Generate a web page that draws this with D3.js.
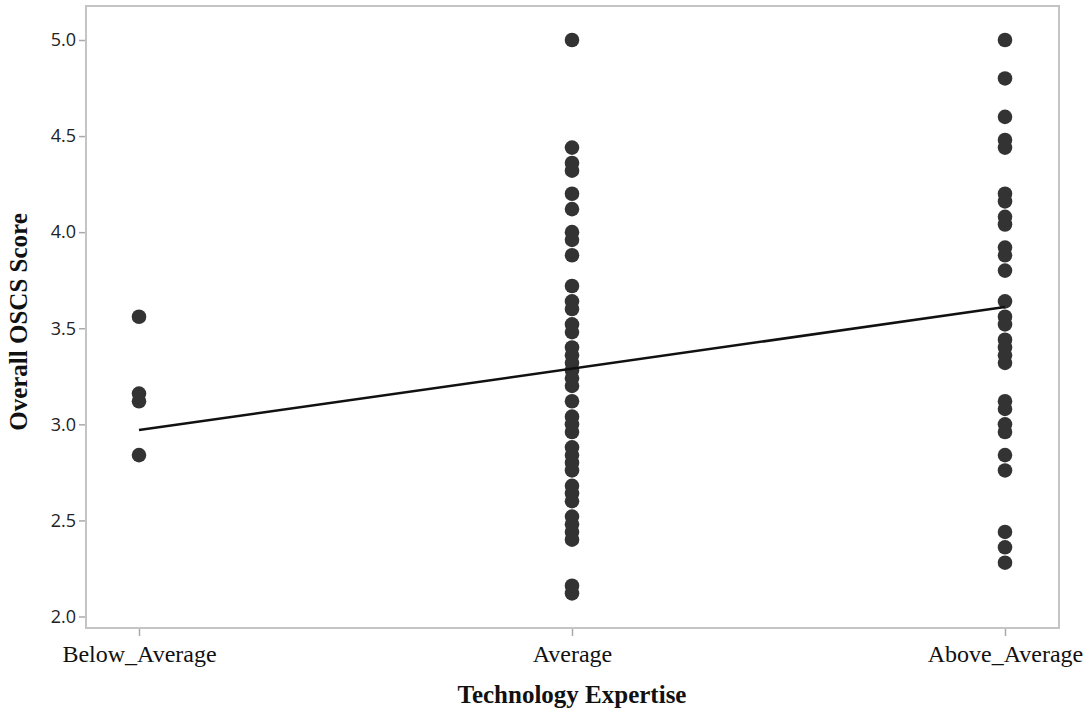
<!DOCTYPE html>
<html>
<head>
<meta charset="utf-8">
<script src="https://cdn.jsdelivr.net/npm/d3@7"></script>
<style>
  html, body { margin: 0; padding: 0; background: #fff; }
  svg { display: block; }
</style>
</head>
<body>
<svg id="chart" width="1086" height="719"></svg>
<script>
// Expertise groups along the x axis
const categories = ["Below_Average", "Average", "Above_Average"];

// Overall OSCS scores, one list per expertise group
const belowAverageScores = [3.56, 3.16, 3.12, 2.84];
const averageScores = [
  5.00, 4.44, 4.36, 4.32, 4.20, 4.12, 4.00, 3.96, 3.88, 3.72,
  3.64, 3.60, 3.52, 3.48, 3.40, 3.36, 3.32, 3.28, 3.24, 3.20,
  3.12, 3.04, 3.00, 2.96, 2.88, 2.84, 2.80, 2.76, 2.68, 2.64,
  2.60, 2.52, 2.48, 2.44, 2.40, 2.16, 2.12
];
const aboveAverageScores = [
  5.00, 4.80, 4.60, 4.48, 4.44, 4.20, 4.16, 4.08, 4.04, 3.92,
  3.88, 3.80, 3.64, 3.56, 3.52, 3.44, 3.40, 3.36, 3.32, 3.12,
  3.08, 3.00, 2.96, 2.84, 2.76, 2.44, 2.36, 2.28
];

// Fitted line values at the first and last group
const fitStart = 2.97;
const fitEnd = 3.61;

const yTicks = [2.0, 2.5, 3.0, 3.5, 4.0, 4.5, 5.0];

const groups = [belowAverageScores, averageScores, aboveAverageScores];
const points = groups.flatMap((vals, i) => vals.map(v => ({ cat: categories[i], v })));

const svg = d3.select("#chart");
const frame = { left: 86, top: 6, right: 1059, bottom: 628 };

const x = d3.scalePoint().domain(categories).range([139, 1005]);
const y = d3.scaleLinear().domain([2.0, 5.0]).range([616.5, 40]);

const serif = "'Liberation Serif', 'Times New Roman', serif";

// plot frame
svg.append("rect")
  .attr("x", frame.left).attr("y", frame.top)
  .attr("width", frame.right - frame.left).attr("height", frame.bottom - frame.top)
  .attr("fill", "none").attr("stroke", "#c4c4c4").attr("stroke-width", 2);

// y axis
const yAxis = svg.append("g")
  .attr("transform", `translate(${frame.left - 1},0)`)
  .call(d3.axisLeft(y).tickValues(yTicks).tickFormat(d3.format(".1f")).tickSize(6).tickPadding(3));
yAxis.select(".domain").remove();
yAxis.selectAll(".tick line").attr("stroke", "#aaa").attr("stroke-width", 1.5);
yAxis.selectAll(".tick text")
  .attr("fill", "#222")
  .style("font-family", "'Open Sans', 'DejaVu Sans', sans-serif")
  .style("font-size", "18px");

// x axis
const xAxis = svg.append("g")
  .attr("transform", `translate(0,${frame.bottom + 1})`)
  .call(d3.axisBottom(x).tickSize(7).tickPadding(9));
xAxis.select(".domain").remove();
xAxis.selectAll(".tick line").attr("stroke", "#aaa").attr("stroke-width", 1.5);
xAxis.selectAll(".tick text")
  .attr("fill", "#111")
  .style("font-family", serif)
  .style("font-size", "24px");

// axis titles
svg.append("text")
  .attr("transform", `translate(27,322) rotate(-90)`)
  .attr("text-anchor", "middle")
  .style("font-family", serif)
  .style("font-size", "25px").style("font-weight", "bold")
  .attr("fill", "#111")
  .text("Overall OSCS Score");

svg.append("text")
  .attr("x", x("Average")).attr("y", 703)
  .attr("text-anchor", "middle")
  .style("font-family", serif)
  .style("font-size", "25px").style("font-weight", "bold")
  .attr("fill", "#111")
  .text("Technology Expertise");

// data points
svg.append("g").selectAll("circle")
  .data(points)
  .join("circle")
  .attr("cx", d => x(d.cat))
  .attr("cy", d => y(d.v))
  .attr("r", 7.3)
  .attr("fill", "#333");

// fitted line
svg.append("line")
  .attr("x1", x(categories[0])).attr("y1", y(fitStart))
  .attr("x2", x(categories[categories.length - 1])).attr("y2", y(fitEnd))
  .attr("stroke", "#111").attr("stroke-width", 2.5);
</script>
</body>
</html>
